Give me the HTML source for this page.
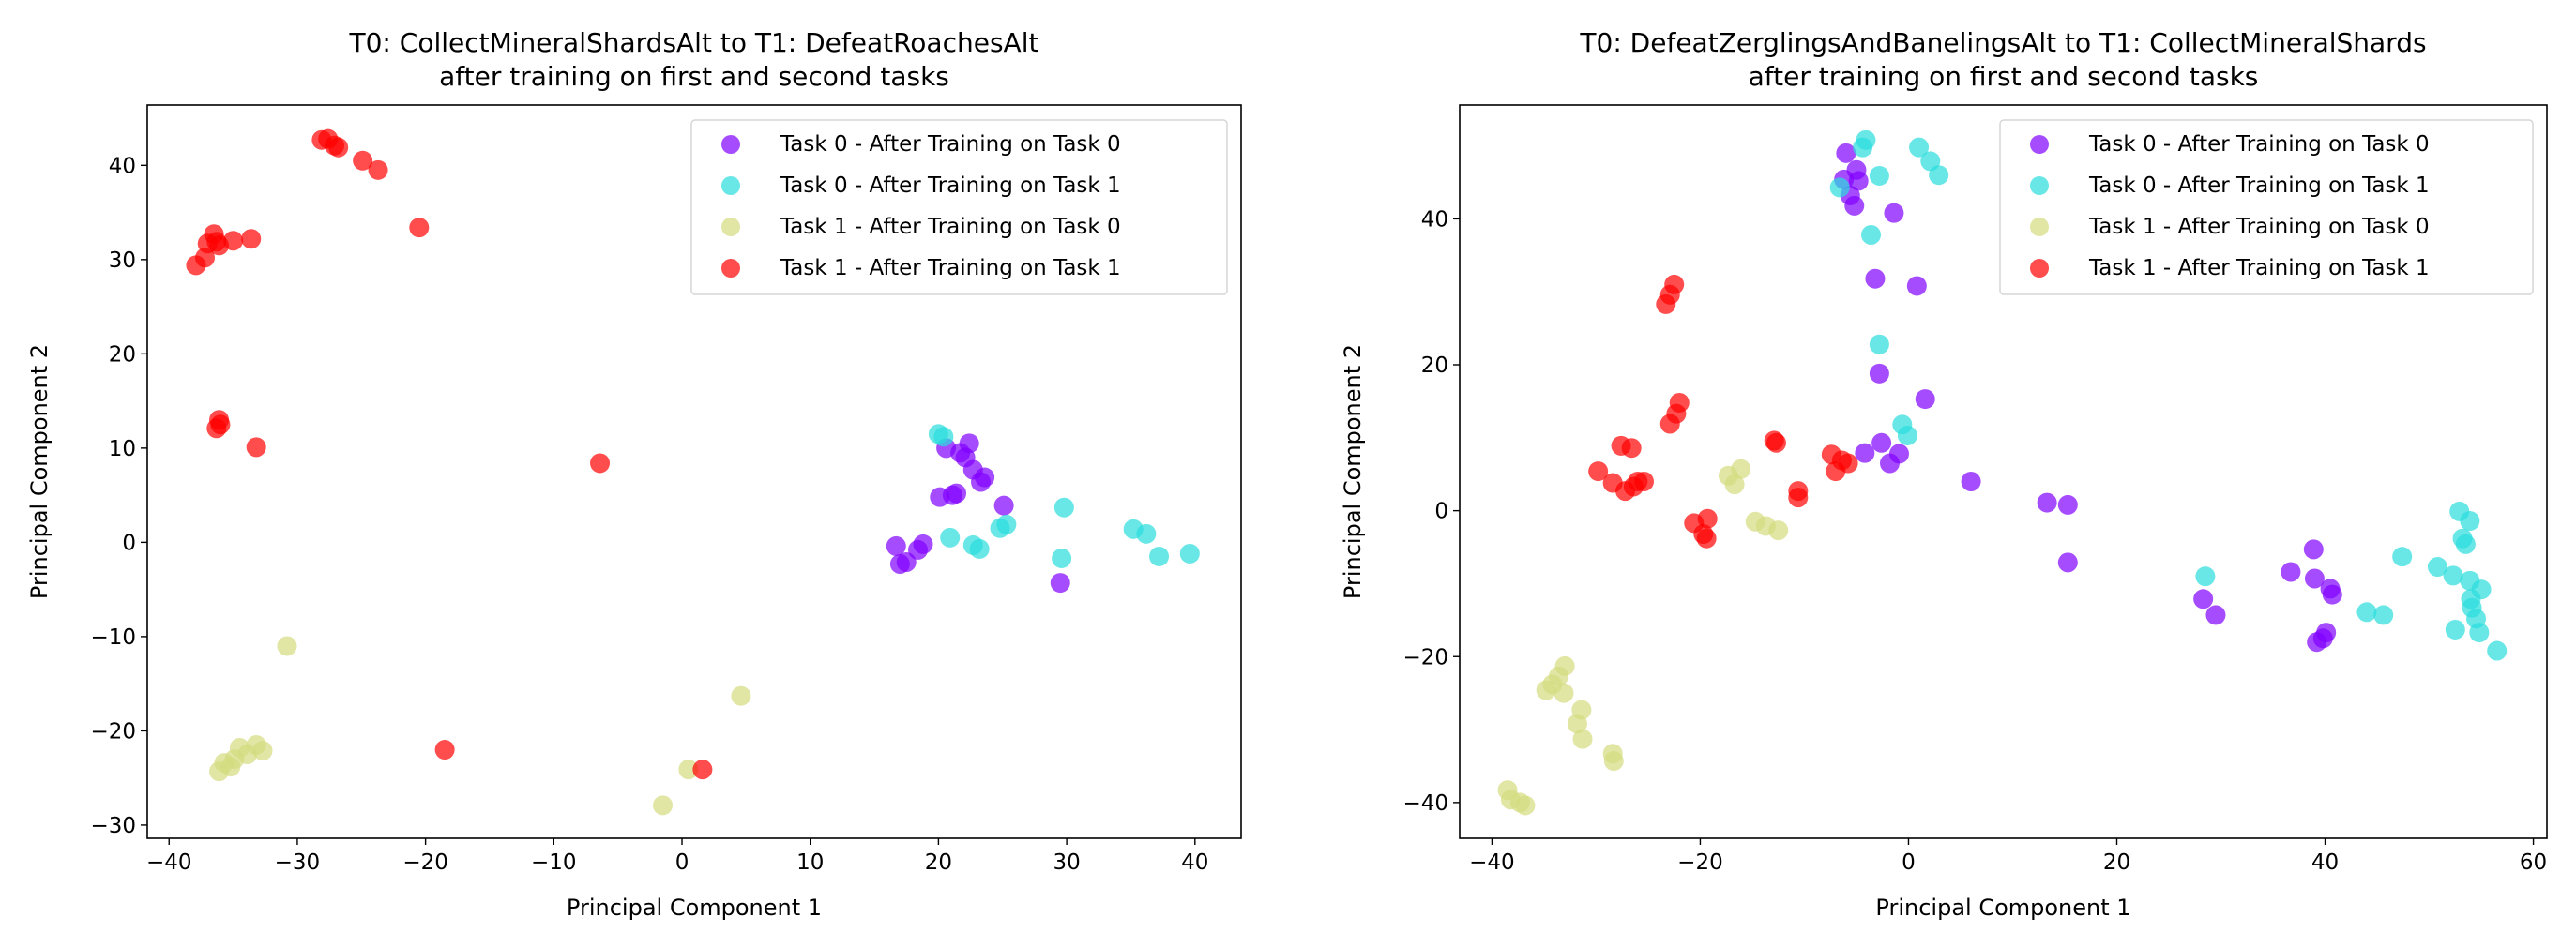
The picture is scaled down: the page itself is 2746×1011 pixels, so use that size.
<!DOCTYPE html>
<html><head><meta charset="utf-8"><style>
html,body{margin:0;padding:0;background:#fff;}
svg{display:block;font-family:"DejaVu Sans","Liberation Sans",sans-serif;}
</style></head><body>
<svg id="fig" width="2746" height="1011" viewBox="0 0 2746 1011" xmlns="http://www.w3.org/2000/svg"></svg>
<script>
const seriesNames = ["Task 0 - After Training on Task 0","Task 0 - After Training on Task 1","Task 1 - After Training on Task 0","Task 1 - After Training on Task 1"];
const seriesColors = ["#8000ff","#2adddd","#d4dc7f","#ff0000"];

const leftTitle = ["T0: CollectMineralShardsAlt to T1: DefeatRoachesAlt","after training on first and second tasks"];
const leftXTicks = [-40,-30,-20,-10,0,10,20,30,40];
const leftYTicks = [-30,-20,-10,0,10,20,30,40];
const leftS0 = [[20.6,10],[21.7,9.5],[22.4,10.5],[22.1,9],[22.7,7.7],[23.3,6.4],[23.6,6.9],[20.1,4.8],[21.1,5],[21.4,5.2],[25.1,3.9],[16.7,-0.4],[17,-2.3],[17.5,-2.1],[18.4,-0.8],[18.8,-0.2],[29.5,-4.3]];
const leftS1 = [[20,11.5],[20.4,11.2],[20.9,0.5],[22.7,-0.3],[23.2,-0.7],[24.8,1.5],[25.3,1.9],[29.8,3.7],[29.6,-1.7],[35.2,1.4],[36.2,0.9],[37.2,-1.5],[39.6,-1.2]];
const leftS2 = [[-30.8,-11],[-36.1,-24.3],[-35.7,-23.4],[-34.9,-23],[-34.5,-21.8],[-33.9,-22.5],[-33.2,-21.5],[-32.7,-22.1],[-35.2,-23.8],[4.6,-16.3],[0.5,-24.1],[-1.5,-27.9]];
const leftS3 = [[-28.1,42.7],[-27.6,42.8],[-27.1,42.1],[-26.8,41.9],[-24.9,40.5],[-23.7,39.5],[-20.5,33.4],[-37.9,29.4],[-37.2,30.2],[-37,31.7],[-36.5,32.7],[-36.3,31.9],[-36.1,31.5],[-35,32],[-33.6,32.2],[-36.3,12.1],[-36.1,13],[-36,12.5],[-33.2,10.1],[-6.4,8.4],[-18.5,-22],[1.6,-24.1]];

const rightTitle = ["T0: DefeatZerglingsAndBanelingsAlt to T1: CollectMineralShards","after training on first and second tasks"];
const rightXTicks = [-40,-20,0,20,40,60];
const rightYTicks = [-40,-20,0,20,40];
const rightS0 = [[-6,49],[-6.2,45.4],[-5,46.7],[-4.8,45.2],[-5.6,43.2],[-5.2,41.8],[-1.4,40.8],[-3.2,31.8],[0.8,30.8],[-2.8,18.8],[1.6,15.3],[-2.6,9.3],[-4.2,7.9],[-0.9,7.8],[-1.8,6.5],[6,4],[13.3,1.1],[15.3,0.8],[15.3,-7.1],[28.3,-12.1],[29.5,-14.3],[36.7,-8.4],[38.9,-5.3],[39,-9.3],[40.5,-10.7],[40.7,-11.5],[40.1,-16.7],[39.8,-17.5],[39.2,-18]];
const rightS1 = [[-4.1,50.8],[-4.4,49.8],[1,49.8],[2.1,47.9],[2.9,46],[-2.8,45.9],[-6.6,44.3],[-3.6,37.8],[-2.8,22.8],[-0.6,11.8],[-0.1,10.3],[28.5,-9],[44,-13.9],[45.6,-14.3],[47.4,-6.3],[50.8,-7.7],[52.3,-8.9],[52.9,-0.1],[53.9,-1.4],[53.2,-3.8],[53.5,-4.6],[53.9,-9.6],[55,-10.8],[54,-12.1],[54.1,-13.3],[54.5,-14.8],[54.8,-16.7],[52.5,-16.3],[56.5,-19.2]];
const rightS2 = [[-17.3,4.8],[-16.1,5.7],[-16.7,3.6],[-14.7,-1.5],[-13.7,-2.1],[-12.5,-2.7],[-33,-21.3],[-33.6,-22.7],[-34.2,-23.8],[-34.8,-24.6],[-33.1,-25],[-31.4,-27.3],[-31.8,-29.2],[-31.3,-31.3],[-28.4,-33.3],[-28.3,-34.3],[-38.5,-38.3],[-38.2,-39.6],[-37.3,-40],[-36.8,-40.4]];
const rightS3 = [[-22.5,31],[-22.9,29.6],[-23.3,28.3],[-22,14.8],[-22.3,13.3],[-22.9,11.9],[-27.6,8.9],[-26.6,8.6],[-29.8,5.4],[-28.4,3.8],[-27.2,2.7],[-26.4,3.3],[-25.4,4],[-26,4],[-12.9,9.6],[-12.7,9.3],[-10.6,2.7],[-10.6,1.8],[-20.6,-1.7],[-19.3,-1.1],[-19.7,-3.2],[-19.4,-3.8],[-7.4,7.7],[-7,5.4],[-6.4,6.9],[-5.8,6.5]];

const NS="http://www.w3.org/2000/svg";
const svg=document.getElementById('fig');
function mk(tag,attrs,parent,text){const e=document.createElementNS(NS,tag);for(const k in attrs)e.setAttribute(k,attrs[k]);if(text!==undefined)e.textContent=text;(parent||svg).appendChild(e);return e;}

function drawPanel(cfg){
  const g=mk('g',{});
  
  
  const {x0,x1,y0,y1,xmin,xmax,ymin,ymax}=cfg;
  const sx=v=>x0+(v-xmin)/(xmax-xmin)*(x1-x0);
  const sy=v=>y1-(v-ymin)/(ymax-ymin)*(y1-y0);
  const cx=(x0+x1)/2;
  cfg.title.forEach((t,i)=>{const e=mk('text',{x:cx,y:55+i*36,'text-anchor':'middle','font-size':28,fill:'#000'},g,t);
    
    });
  // points
  cfg.series.forEach((pts,si)=>{
    const sg=mk('g',{},g);
    
    
    pts.forEach(p=>{const c=mk('circle',{cx:sx(p[0]),cy:sy(p[1]),r:10.5,fill:seriesColors[si],'fill-opacity':0.7},sg);
      
      });
  });
  const fr=mk('rect',{x:x0,y:y0,width:x1-x0,height:y1-y0,fill:'none',stroke:'#000','stroke-width':1.6},g);
  
  
  cfg.xTicks.forEach(t=>{const x=sx(t);
    mk('line',{x1:x,x2:x,y1:y1,y2:y1+7,stroke:'#000','stroke-width':1.4},g);
    const e=mk('text',{x:x,y:y1+33,'text-anchor':'middle','font-size':23},g,t<0?'\u2212'+(-t):String(t));
    
    });
  cfg.yTicks.forEach(t=>{const y=sy(t);
    mk('line',{x1:x0-7,x2:x0,y1:y,y2:y,stroke:'#000','stroke-width':1.4},g);
    const e=mk('text',{x:x0-12,y:y+8,'text-anchor':'end','font-size':23},g,t<0?'\u2212'+(-t):String(t));
    
    });
  const xl=mk('text',{x:cx,y:976,'text-anchor':'middle','font-size':24},g,'Principal Component 1');
  
  
  const yx=cfg.ylabX, yy=(y0+y1)/2;
  const yl=mk('text',{x:yx,y:yy,'text-anchor':'middle','font-size':24,transform:`rotate(-90 ${yx} ${yy})`},g,'Principal Component 2');
  
  
  // legend
  const lg=mk('g',{},g);
  
  
  mk('rect',{x:cfg.lx0,y:128,width:cfg.lx1-cfg.lx0,height:186,rx:4,fill:'#fff','fill-opacity':0.8,stroke:'#d6d6d6','stroke-width':1.5},lg);
  seriesNames.forEach((n,i)=>{const y=153+i*44;
    const e=mk('g',{},lg);
    
    
    mk('circle',{cx:cfg.lx0+42,cy:y+1,r:10,fill:seriesColors[i],'fill-opacity':0.7},e);
    mk('text',{x:cfg.lx0+95,y:y+8,'font-size':23},e,n);
  });
}
drawPanel({name:'left-chart',x0:157,x1:1323,y0:112,y1:894,xmin:-41.7,xmax:43.6,ymin:-31.4,ymax:46.4,
  title:leftTitle,xTicks:leftXTicks,yTicks:leftYTicks,series:[leftS0,leftS1,leftS2,leftS3],ylabX:50,lx0:737,lx1:1308});
drawPanel({name:'right-chart',x0:1556,x1:2715,y0:112,y1:894,xmin:-43.1,xmax:61.3,ymin:-44.9,ymax:55.6,
  title:rightTitle,xTicks:rightXTicks,yTicks:rightYTicks,series:[rightS0,rightS1,rightS2,rightS3],ylabX:1450,lx0:2132,lx1:2700});
</script>
</body></html>
